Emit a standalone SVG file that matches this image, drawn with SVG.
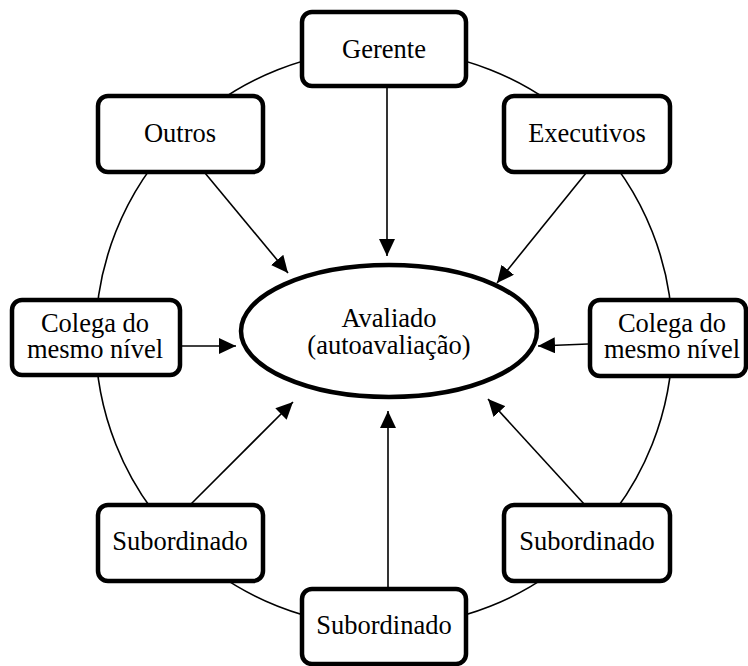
<svg xmlns="http://www.w3.org/2000/svg" width="748" height="666" viewBox="0 0 748 666">
<style>
.box{fill:#fff;stroke:#000;stroke-width:4.5}
.lbl{font-size:26.5px;fill:#000;text-anchor:middle}
.arr{stroke:#000;stroke-width:1.6;fill:none;marker-end:url(#ah)}
</style>
<defs>
<marker id="ah" markerUnits="userSpaceOnUse" markerWidth="18" markerHeight="16" refX="17" refY="8" orient="auto">
<path d="M0,0 L17,8 L0,16 Z" fill="#000"/>
</marker>
</defs>
<rect width="748" height="666" fill="#fff"/>
<circle cx="384" cy="338" r="288.5" fill="none" stroke="#000" stroke-width="1.6"/>
<g id="connectors">
<line class="arr" x1="387" y1="88" x2="387" y2="256"/>
<line class="arr" x1="205" y1="173" x2="288" y2="273"/>
<line class="arr" x1="586" y1="173" x2="497" y2="283"/>
<line class="arr" x1="182" y1="346" x2="236" y2="346"/>
<line class="arr" x1="588" y1="344" x2="538" y2="346"/>
<line class="arr" x1="190" y1="505" x2="293" y2="402"/>
<line class="arr" x1="388" y1="589" x2="388" y2="411"/>
<line class="arr" x1="585" y1="505" x2="488" y2="399"/>
</g>
<g font-family="'Liberation Serif', 'Times New Roman', 'DejaVu Serif', serif">
<g id="avaliado">
<ellipse cx="389" cy="331" rx="148" ry="66" fill="#fff" stroke="#000" stroke-width="4.5"/>
<text class="lbl" x="389" y="327">Avaliado</text>
<text class="lbl" x="389" y="354">(autoavaliação)</text>
</g>
<g id="gerente">
<rect class="box" x="302" y="12" width="164" height="74" rx="10"/>
<text class="lbl" x="384" y="58">Gerente</text>
</g>
<g id="outros">
<rect class="box" x="98" y="96" width="165" height="76" rx="10"/>
<text class="lbl" x="180" y="142">Outros</text>
</g>
<g id="executivos">
<rect class="box" x="504" y="96" width="166" height="76" rx="10"/>
<text class="lbl" x="587" y="142">Executivos</text>
</g>
<g id="colega-esq">
<rect class="box" x="12" y="300" width="168" height="75" rx="10"/>
<text class="lbl" x="95" y="332">Colega do</text>
<text class="lbl" x="95" y="358">mesmo nível</text>
</g>
<g id="colega-dir">
<rect class="box" x="590" y="300" width="156" height="76" rx="10"/>
<text class="lbl" x="672" y="332">Colega do</text>
<text class="lbl" x="672" y="358">mesmo nível</text>
</g>
<g id="subordinado-esq">
<rect class="box" x="98" y="505" width="165" height="76" rx="10"/>
<text class="lbl" x="180" y="550">Subordinado</text>
</g>
<g id="subordinado-dir">
<rect class="box" x="504" y="505" width="166" height="76" rx="10"/>
<text class="lbl" x="587" y="550">Subordinado</text>
</g>
<g id="subordinado-baixo">
<rect class="box" x="302" y="589" width="164" height="75" rx="10"/>
<text class="lbl" x="384" y="634">Subordinado</text>
</g>
</g>
</svg>
